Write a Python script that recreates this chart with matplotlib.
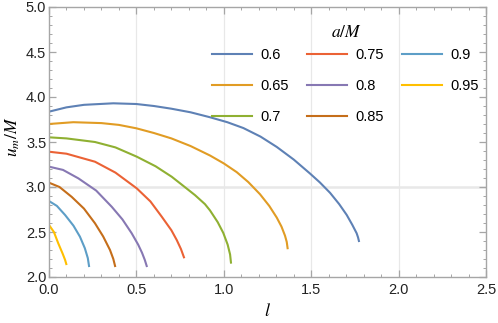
import matplotlib
matplotlib.use('Agg')
import matplotlib.pyplot as plt
from matplotlib.ticker import MultipleLocator

plt.rcParams['font.family'] = ['Liberation Sans', 'DejaVu Sans']
plt.rcParams['mathtext.fontset'] = 'stix'

# spin values a/M and colours (Mathematica default palette)
spins = ['0.6', '0.65', '0.7', '0.75', '0.8', '0.85', '0.9', '0.95']
colors = ['#5E81B5', '#E19C24', '#8FB032', '#EB6235',
          '#8778B3', '#C56E1A', '#5D9EC7', '#FFBF00']

# curves: l and u_m/M
l_06 = [0.0, 0.1, 0.2, 0.368, 0.5, 0.6, 0.7, 0.81, 0.921, 1.02, 1.112, 1.21, 1.303,
        1.40, 1.493, 1.55, 1.608, 1.66, 1.703, 1.735, 1.760, 1.768, 1.773]
u_06 = [3.837, 3.885, 3.913, 3.93, 3.922, 3.90, 3.87, 3.83, 3.775, 3.72, 3.655, 3.56, 3.445,
        3.305, 3.15, 3.05, 2.935, 2.81, 2.69, 2.58, 2.486, 2.44, 2.40]
l_065 = [0.0, 0.139, 0.3, 0.4, 0.5, 0.6, 0.7, 0.81, 0.921, 1.0, 1.074, 1.14, 1.207,
         1.26, 1.303, 1.33, 1.350, 1.36, 1.365]
u_065 = [3.70, 3.72, 3.71, 3.69, 3.652, 3.60, 3.54, 3.455, 3.35, 3.262, 3.165, 3.055, 2.92,
         2.79, 2.66, 2.56, 2.46, 2.39, 2.32]
l_07 = [0.0, 0.1, 0.263, 0.38, 0.502, 0.61, 0.702, 0.77, 0.835, 0.892, 0.921, 0.965,
        0.997, 1.022, 1.036, 1.041]
u_07 = [3.552, 3.54, 3.50, 3.44, 3.337, 3.23, 3.114, 3.01, 2.91, 2.81, 2.74, 2.61,
        2.49, 2.36, 2.25, 2.16]
l_075 = [0.0, 0.1, 0.263, 0.38, 0.502, 0.58, 0.645, 0.70, 0.731, 0.755, 0.772]
u_075 = [3.392, 3.37, 3.281, 3.16, 2.985, 2.84, 2.67, 2.52, 2.41, 2.31, 2.219]
l_08 = [0.0, 0.08, 0.168, 0.27, 0.359, 0.42, 0.473, 0.51, 0.532, 0.548, 0.559]
u_08 = [3.226, 3.19, 3.096, 2.96, 2.78, 2.64, 2.486, 2.36, 2.27, 2.19, 2.122]
l_085 = [0.0, 0.06, 0.130, 0.20, 0.263, 0.31, 0.349, 0.368, 0.378]
u_085 = [3.048, 3.00, 2.89, 2.76, 2.597, 2.45, 2.30, 2.20, 2.122]
l_09 = [0.0, 0.045, 0.092, 0.14, 0.177, 0.205, 0.222, 0.229]
u_09 = [2.844, 2.79, 2.689, 2.57, 2.448, 2.32, 2.21, 2.122]
l_095 = [0.0, 0.028, 0.053, 0.078, 0.092, 0.099]
u_095 = [2.578, 2.50, 2.374, 2.26, 2.19, 2.144]

curves_l = [l_06, l_065, l_07, l_075, l_08, l_085, l_09, l_095]
curves_u = [u_06, u_065, u_07, u_075, u_08, u_085, u_09, u_095]

fig = plt.figure(figsize=(4.98, 3.23), dpi=100)
ax = fig.add_axes([49 / 498, 46 / 323, 437 / 498, 270 / 323])

for v in [0.5, 1.0, 1.5, 2.0]:
    ax.axvline(v, color='#e8e8e8', lw=0.9, zorder=0)
ax.axhline(3.0, color='#e8e8e8', lw=1.8, zorder=0)

for l, u, c, s in zip(curves_l, curves_u, colors, spins):
    ax.plot(l, u, color=c, lw=1.5, label=s, solid_joinstyle='round')

ax.set_xlim(0, 2.5)
ax.set_ylim(2.0, 5.0)
ax.xaxis.set_major_locator(MultipleLocator(0.5))
ax.xaxis.set_minor_locator(MultipleLocator(0.1))
ax.yaxis.set_major_locator(MultipleLocator(0.5))
ax.yaxis.set_minor_locator(MultipleLocator(0.1))
ax.xaxis.set_major_formatter(plt.FormatStrFormatter('%.1f'))
ax.yaxis.set_major_formatter(plt.FormatStrFormatter('%.1f'))

for sp in ax.spines.values():
    sp.set_color('#a6a6a6')
    sp.set_linewidth(1.0)
ax.tick_params(which='both', direction='in', top=True, right=True,
               color='#a6a6a6', labelsize=10.5, labelcolor='#222222')
ax.tick_params(which='major', length=5, width=0.9)
ax.tick_params(which='minor', length=2.5, width=0.7)
ax.tick_params(axis='x', pad=4)
ax.tick_params(axis='y', pad=2)

ax.set_xlabel(r'$l$', fontsize=13, va='center')
ax.set_ylabel(r'$u_m/M$', fontsize=12.5, va='center')
ax.xaxis.set_label_coords(0.5, -(312 - 277) / 270)
ax.yaxis.set_label_coords(-(49 - 13) / 437, (277 - 137) / 270)

# legend title drawn separately so it sits closer to the rows
ax.text((346 - 49) / 437, 1 - (32 - 7) / 270, r'$a/M$', transform=ax.transAxes,
        ha='center', va='center', fontsize=12.5)
ax.legend(ncol=3, frameon=False, fontsize=10.5,
          handlelength=2.75, handletextpad=0.55,
          columnspacing=1.25, labelspacing=1.15, borderpad=0,
          loc='upper left', bbox_to_anchor=((205 - 49) / 437, 1 - (41 - 7) / 270))

fig.savefig('out.png', dpi=100)
